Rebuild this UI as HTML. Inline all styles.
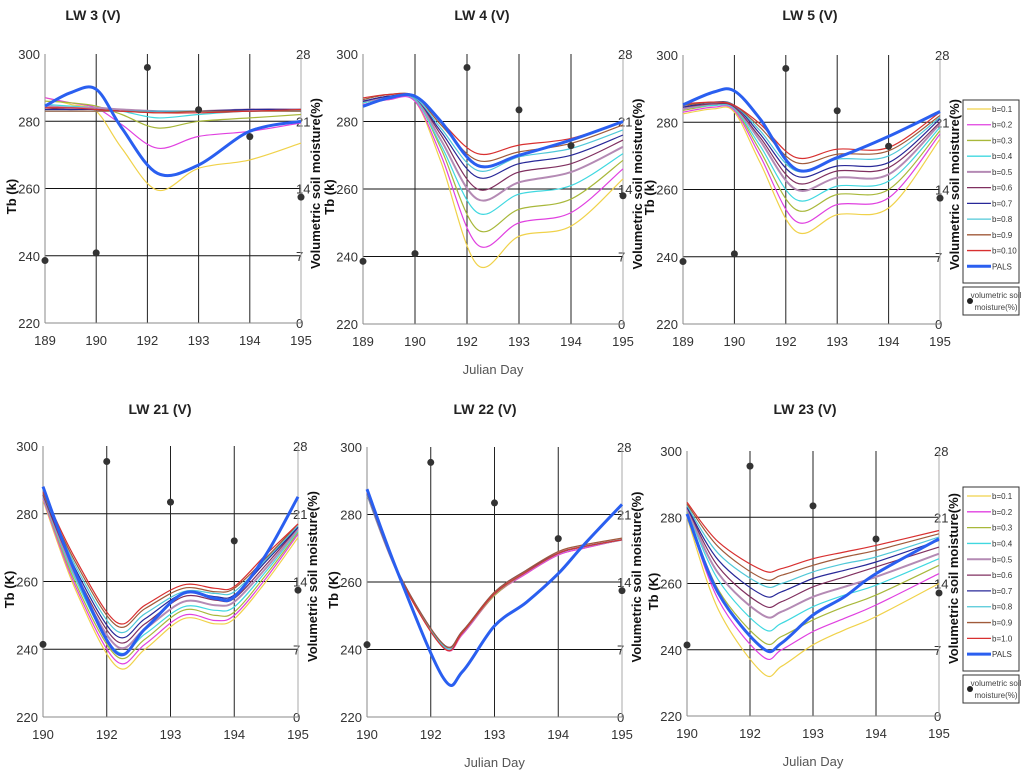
<!DOCTYPE html>
<html><head><meta charset="utf-8"><style>
body{margin:0;background:#fff;width:1024px;height:776px;overflow:hidden;font-family:"Liberation Sans",sans-serif}
svg{display:block}
</style></head><body>
<svg id="c" width="1024" height="776" viewBox="0 0 1024 776"></svg>
<script>
const NS="http://www.w3.org/2000/svg";
const svg=document.getElementById('c');
const seriesNames=["b=0.1","b=0.2","b=0.3","b=0.4","b=0.5","b=0.6","b=0.7","b=0.8","b=0.9","b=0.10","PALS"];
const seriesColors=["#f0d24a","#e040e0","#a8b83a","#40d8e0","#b48ab4","#803060","#282898","#50c8d8","#a05a3a","#d83030","#2a5ff0"];
const topCats=["189","190","192","193","194","195"];
const botCats=["190","192","193","194","195"];
const tbTicks=[220,240,260,280,300];
const smTicks=[0,7,14,21,28];

// LW3
const lw3T=[0,0.5,1,1.5,2.2,3,4,5];
const lw3=[[287,285,283,272,259.5,266,268.5,273.5],[287,285.5,284,279,272,275.5,277,279.5],[286,285.5,284.5,282,278,280,281,282],[285,284.5,284,283,281,282,283,283],[284.5,284,284,283.5,283,283,283.5,283.5],[284,283.5,283.5,283,283,283,283,283.5],[283.5,283.5,283.5,283,283,283,283.5,283.5],[283,283,283,283,283,283,283,283.5],[283,283,283,283,282.5,283,283,283],[284,284,283.5,283,282.5,282.5,283,283.5],[284.5,288.5,289.5,278,264.5,267,277,280]];
const lw3Dots=[6.5,7.3,26.6,22.2,19.4,13.1];
// LW4
const lw4T=[0,0.5,1,1.5,2.2,3,4,5];
const lw4=[[285,286.5,286,268,237.5,246,249,263],[285,286.5,286,270,243.5,250,253,266],[285.5,287,286.5,272,248,254,257,268.5],[285.5,287,286.5,273,253,258.5,261,270.5],[286,287,287,274.5,257,262,265,272.5],[286,287.5,287,276,260,265,267.5,274.5],[286,287.5,287,277,263.5,267.5,270,276],[286.5,288,287,278,265.5,269.5,272,277.5],[286.5,288,287.5,279,268.5,271,273.5,279],[287,288,287.5,280,270.5,273,275,280],[284.5,287,287.5,280,267,270,274.5,280]];
const lw4Dots=[6.5,7.3,26.6,22.2,18.5,13.3];
// LW5
const lw5T=[0,0.6,1,1.5,2.2,3,4,5];
const lw5=[[282.5,284,283,268,247.5,252.5,254.5,275],[283,284.5,283.5,270,250.5,255.5,257.5,276.5],[283.5,285,284,271.5,254,258.5,260,277.5],[284,285,284,273,257,261,262.5,278.5],[284,285.5,284.5,274.5,260,263.5,264.5,279.5],[284.5,285.5,284.5,275.5,262,265.5,266.5,280],[284.5,286,285,276.5,264,267,268,281],[285,286,285,277.5,265.5,269,270,281.5],[285,286,285,278.5,268,270.5,271.5,282],[285.5,286,285,279.5,269.5,272,272.5,283],[285.2,289,289.3,281,266,269.5,275.8,283.2]];
const lw5Dots=[6.5,7.3,26.6,22.2,18.5,13.1];
// LW21
const lw21T=[0,0.5,1.15,1.6,2.2,2.7,3,3.5,4];
const lw21=[[284,258,235,240,249,247.5,249,260,273],[284.5,259,236.5,241.5,250,248.5,250,261,274],[285,260,238,243,251.5,250,251,262,274.5],[285,261,239.5,244.5,252.5,251.5,252.5,263,275],[285.5,262,241,246,254,253,254,264,275.5],[285.5,263,242.5,247.5,255.5,254.5,255,265,276],[286,264,244,249,256.5,255.5,256,266,276],[286,265,245.5,250.5,257,256.5,257,266.5,276.5],[286,266,247,252,258,257,258,267,277],[286.5,267,248,253,259,258,258.5,268,277],[288,263,239,246,256.5,255,255.5,268,285]];
const lw21Dots=[7.5,26.4,22.2,18.2,13.1];
// LW22
const lw22T=[0,0.5,1.2,1.5,2,2.5,3,3.4,4];
const lw22=[[286,262,240.5,244.5,256,262.5,268,270,272.5],[286,262,240.5,244.5,256,262.5,268,270,272.5],[286,262,241,245,256,263,268.5,270.5,272.5],[286,262,241,245,256.5,263,268.5,270.5,272.5],[286,262,241,245,256.5,263,268.5,270.5,272.5],[286,262,241.5,245.5,256.5,263,268.5,270.5,272.5],[286,262.5,241.5,245.5,257,263.5,268.5,270.5,272.5],[286,262,241,245,256.5,263,268.5,270.5,272.5],[286.5,262.5,241.5,245.5,257,263.5,269,271,273],[286.5,262,240.5,245,256.5,263,268.5,270.5,272.5],[287.5,262,231.5,233.5,247,254,262.5,271,283]];
const lw22Dots=[7.5,26.4,22.2,18.5,13.1];
// LW23
const lw23T=[0,0.5,1.2,1.5,2,2.5,3,4];
const lw23=[[280,252,233,235,241.5,246,250,260],[281,255,238,240,245.5,249.5,253.5,263],[281.5,258,242.5,244,249,253,256.5,265.5],[282,261,246.5,248,253,256.5,259.5,267.5],[282.5,263,250.5,251.5,256,259,262,269],[283,265,253.5,254.5,259,262,265,271],[283,267,256.5,257.5,261.5,264,266.5,273],[283.5,269,259.5,260,263.5,266,268,274],[284,271,261.5,262.5,265.5,268,270,275],[284.5,272.5,264,264.5,267.5,269.5,271.5,276],[281,257,240.5,242,250.5,256,263,273.5]];
const lw23Dots=[7.5,26.4,22.2,18.7,13.0];

function el(tag,attrs,parent,text){const e=document.createElementNS(NS,tag);for(const k in attrs)e.setAttribute(k,attrs[k]);if(text!==undefined)e.textContent=text;(parent||svg).appendChild(e);return e;}

function smooth(pts){let d="M"+pts[0][0].toFixed(1)+","+pts[0][1].toFixed(1);for(let i=0;i<pts.length-1;i++){const p0=pts[Math.max(0,i-1)],p1=pts[i],p2=pts[i+1],p3=pts[Math.min(pts.length-1,i+2)];const c1=[p1[0]+(p2[0]-p0[0])/6,p1[1]+(p2[1]-p0[1])/6],c2=[p2[0]-(p3[0]-p1[0])/6,p2[1]-(p3[1]-p1[1])/6];d+="C"+c1[0].toFixed(1)+","+c1[1].toFixed(1)+" "+c2[0].toFixed(1)+","+c2[1].toFixed(1)+" "+p2[0].toFixed(1)+","+p2[1].toFixed(1);}return d;}

function panel(p){
  const g=el('g',{});
  
  
  const n=p.cats.length-1;
  const xS=t=>p.x0+(p.x1-p.x0)*t/n;
  const yS=v=>p.y1-(v-220)/80*(p.y1-p.y0);
  const yR=v=>p.y1-v/28*(p.y1-p.y0);
  const t=el('text',{x:p.tx,y:p.ty,'font-size':14,'font-weight':'bold','text-anchor':'middle',fill:'#222'},g,p.title);
  
  
  tbTicks.forEach(v=>{
    const y=yS(v);
    if(v>220&&v<300)el('line',{x1:p.x0,x2:p.x1,y1:y,y2:y,stroke:'#111','stroke-width':1},g);
    const l=el('text',{x:p.x0-5,y:y+5,'font-size':13,'text-anchor':'end',fill:'#333'},g,String(v));
    
    
  });
  smTicks.forEach(v=>{
    const l=el('text',{x:p.x1-5,y:yR(v)+5,'font-size':13,fill:'#333'},g,String(v));
    
    
  });
  p.cats.forEach((c,i)=>{
    const x=xS(i);
    if(i>0&&i<n)el('line',{x1:x,x2:x,y1:p.y0,y2:p.y1,stroke:'#222','stroke-width':1},g);
    const l=el('text',{x:x,y:p.y1+22,'font-size':13,'text-anchor':'middle',fill:'#333'},g,c);
    
    
  });
  el('line',{x1:p.x0,x2:p.x0,y1:p.y0,y2:p.y1,stroke:'#888'},g);
  el('line',{x1:p.x1,x2:p.x1,y1:p.y0,y2:p.y1,stroke:'#aaa'},g);
  el('line',{x1:p.x0,x2:p.x1,y1:p.y1,y2:p.y1,stroke:'#888'},g);
  p.data.forEach((s,si)=>{
    const pts=s.map((v,i)=>[xS(p.T[i]),yS(v)]);
    const path=el('path',{d:smooth(pts),fill:'none',stroke:seriesColors[si],'stroke-width':si==10?3:(si==4?2:1.2)},g);
    
    
  });
  p.dots.forEach((v,i)=>{
    const c=el('circle',{cx:xS(i),cy:yR(v),r:3.5,fill:'#333'},g);
    
    
  });
  const yl=(p.y0+p.y1)/2;
  const lt=el('text',{x:0,y:0,'font-size':13,'font-weight':'bold','text-anchor':'middle',fill:'#111',transform:`translate(${p.x0-29},${yl+8}) rotate(-90)`},g,p.ylab);
  
  
  const rt=el('text',{x:0,y:0,'font-size':13,'font-weight':'bold','text-anchor':'middle',fill:'#111',transform:`translate(${p.x1+19},${yl-5}) rotate(-90)`},g,'Volumetric soil moisture(%)');
  
  
  if(p.xlab){const xl=el('text',{x:(p.x0+p.x1)/2,y:p.y1+50,'font-size':13,'text-anchor':'middle',fill:'#555'},g,'Julian Day');
    
    }
}
function legend(x,y,h,names){
  const g=el('g',{});
  
  
  el('rect',{x:x,y:y,width:56,height:h,fill:'#fff',stroke:'#333'},g);
  const step=(h-10)/11;
  names.forEach((nm,i)=>{
    const yy=y+9+step*i;
    el('line',{x1:x+4,x2:x+28,y1:yy,y2:yy,stroke:seriesColors[i],'stroke-width':i==10?3:(i==4?2:1.3)},g);
    const t=el('text',{x:x+29,y:yy+3,'font-size':8,fill:'#333'},g,nm);
    
    
  });
  el('rect',{x:x,y:y+h+4,width:56,height:28,fill:'#fff',stroke:'#333'},g);
  el('circle',{cx:x+7,cy:y+h+18,r:3,fill:'#222'},g);
  const a=el('text',{x:x+33,y:y+h+15,'font-size':8,'text-anchor':'middle',fill:'#444'},g,'volumetric soil');
  
  
  el('text',{x:x+33,y:y+h+27,'font-size':8,'text-anchor':'middle',fill:'#444'},g,'moisture(%)');
}
panel({name:'panel-lw3',title:'LW 3 (V)',tx:93,x0:45,x1:301,y0:54,y1:323,cats:topCats,T:lw3T,data:lw3,dots:lw3Dots,ty:20,ylab:'Tb (k)'});
panel({name:'panel-lw4',title:'LW 4 (V)',tx:482,x0:363,x1:623,y0:54,y1:324,cats:topCats,T:lw4T,data:lw4,dots:lw4Dots,ty:20,ylab:'Tb (k)',xlab:true});
panel({name:'panel-lw5',title:'LW 5 (V)',tx:810,x0:683,x1:940,y0:55,y1:324,cats:topCats,T:lw5T,data:lw5,dots:lw5Dots,ty:20,ylab:'Tb (k)'});
panel({name:'panel-lw21',title:'LW 21 (V)',tx:160,x0:43,x1:298,y0:446,y1:717,cats:botCats,T:lw21T,data:lw21,dots:lw21Dots,ty:414,ylab:'Tb (K)'});
panel({name:'panel-lw22',title:'LW 22 (V)',tx:485,x0:367,x1:622,y0:447,y1:717,cats:botCats,T:lw22T,data:lw22,dots:lw22Dots,ty:414,ylab:'Tb (K)',xlab:true});
panel({name:'panel-lw23',title:'LW 23 (V)',tx:805,x0:687,x1:939,y0:451,y1:716,cats:botCats,T:lw23T,data:lw23,dots:lw23Dots,ty:414,ylab:'Tb (K)',xlab:true});
legend(963,100,183,seriesNames);
legend(963,487,184,["b=0.1","b=0.2","b=0.3","b=0.4","b=0.5","b=0.6","b=0.7","b=0.8","b=0.9","b=1.0","PALS"]);
</script>
</body></html>
